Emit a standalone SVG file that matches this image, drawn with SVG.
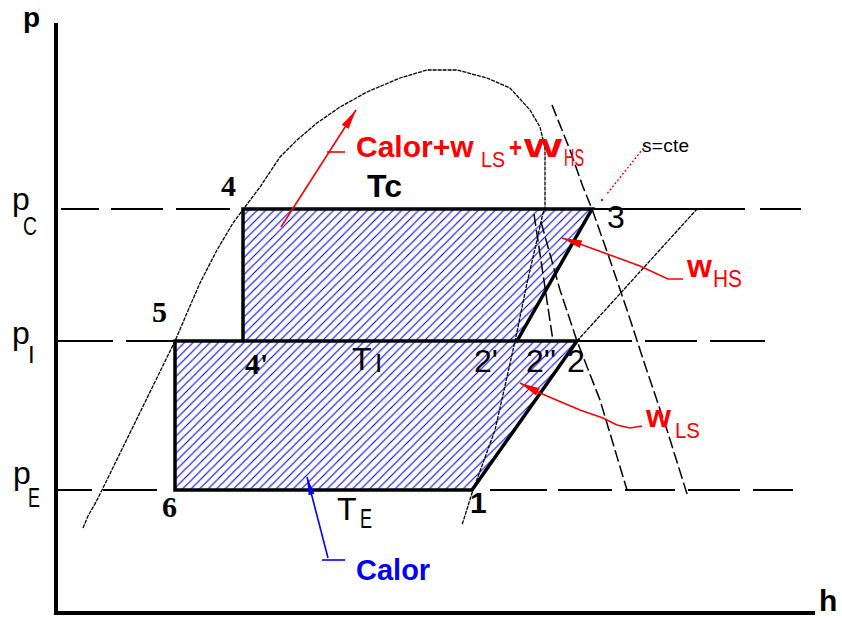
<svg xmlns="http://www.w3.org/2000/svg" width="842" height="619" viewBox="0 0 842 619">
<style>
.thin{fill:none;stroke:#000;stroke-width:1.3;stroke-dasharray:4,1}
.iso{fill:none;stroke:#000;stroke-width:1.5;stroke-dasharray:12,4}
.pl{fill:none;stroke:#000;stroke-width:1.8}
.thick{fill:none;stroke:#000;stroke-width:3.5;stroke-linecap:square}
.axis{fill:none;stroke:#000;stroke-width:4}
.sans{font-family:"Liberation Sans",Arial,sans-serif}
.serif{font-family:"Liberation Serif","Times New Roman",serif;font-weight:bold}
.red{fill:#ff0000}
.blue{fill:#0000ff}
.ra{fill:none;stroke:#ff0000;stroke-width:1.6}
</style>
<defs>
<pattern id="hatch" patternUnits="userSpaceOnUse" width="8.5" height="8.5">
<path d="M-2,2 L2,-2 M0,8.5 L8.5,0 M6.5,10.5 L10.5,6.5" stroke="#0000ff" stroke-width="1.1"/>
</pattern>
<marker id="arR" markerUnits="userSpaceOnUse" markerWidth="24" markerHeight="12" refX="20" refY="5" orient="auto">
<path d="M0,1 L20,5 L0,9 Z" fill="#ff0000"/>
</marker>
<marker id="arB" markerUnits="userSpaceOnUse" markerWidth="24" markerHeight="12" refX="18" refY="4" orient="auto">
<path d="M0,1 L18,4 L0,7 Z" fill="#0000ff"/>
</marker>
</defs>
<rect width="842" height="619" fill="#fff"/>

<g id="areas">
<path d="M243,209 L592,209 L517,341 L243,341 Z" fill="url(#hatch)"/>
<path d="M175,341 L577,341 L472,490 L175,490 Z" fill="url(#hatch)"/>
</g>

<g id="curves">
<polyline class="thin" points="83,528 88,516 96,502 102,490 175,341 187,313 200,283 217,250 233,223 245,207 260,187 280,157 297,140 317,123 340,107 367,92 400,78 427,70 457,70 487,78 510,88 530,110 540,127 545,148 545,209 543,213 537,240 527,283 518,327 515,341 507,377 495,430 483,463 473,490 462,525"/>
<polyline class="iso" points="552,105 570,150 583,187 592,209 610,260 627,310 645,365 667,430 688,497"/>
<polyline class="iso" points="541,222 560,290 577,341 600,400 627,490"/>
<polyline class="iso" points="534,214 553,341"/>
<line class="thin" x1="577" y1="341" x2="697" y2="209"/>
</g>

<g id="pressure-lines">
<path class="pl" d="M61,209 H99 M111,209 H163 M176,209 H230 M592,209 H745 M760,209 H801"/>
<path class="pl" d="M57,341 H113 M126,341 H175 M577,341 H632 M645,341 H697 M710,341 H765"/>
<path class="pl" d="M58,490 H92 M103,490 H157 M490,490 H547 M558,490 H612 M625,490 H675 M688,490 H740 M753,490 H793"/>
</g>

<g id="cycle">
<path class="thick" d="M243,209 H592 L517,341 M243,209 V341 M175,341 H577 L472,490 H175 V341"/>
</g>

<g id="axes">
<path class="axis" d="M56,23 V613 H815"/>
</g>

<g id="arrows">
<line class="ra" x1="281" y1="227" x2="356" y2="110" stroke-width="2.2" marker-end="url(#arR)"/>
<line class="ra" x1="327" y1="152" x2="345" y2="152"/>
<polyline class="ra" points="683,279 668,279 640,266 580,244 562,238" marker-end="url(#arR)"/>
<polyline class="ra" points="642,426 630,428 617,425 603,418 580,410 540,393 520,383" marker-end="url(#arR)"/>
<line x1="646" y1="145" x2="606" y2="195" stroke="#ff0000" stroke-width="1.4" stroke-dasharray="2,2"/>
<circle cx="602" cy="200" r="1.2" fill="#ff0000"/>
<line x1="328" y1="558" x2="307" y2="477" stroke="#0000ff" stroke-width="1.6" marker-end="url(#arB)"/>
<line x1="322" y1="560" x2="345" y2="560" stroke="#0000ff" stroke-width="1.6"/>
</g>

<g id="labels">
<text class="sans" x="23" y="27" font-size="28" font-weight="bold">p</text>
<text class="sans" x="819" y="611" font-size="30" font-weight="bold">h</text>
<text class="sans" x="12" y="210" font-size="32">p<tspan x="23" y="235" font-size="26" textLength="14" lengthAdjust="spacingAndGlyphs">C</tspan></text>
<text class="sans" x="12" y="344" font-size="32">p<tspan x="28" y="363" font-size="24">I</tspan></text>
<text class="sans" x="13" y="484" font-size="32">p<tspan x="28" y="507" font-size="28" textLength="12" lengthAdjust="spacingAndGlyphs">E</tspan></text>

<text class="serif" x="221" y="196" font-size="30">4</text>
<text class="serif" x="152" y="322" font-size="30">5</text>
<text class="serif" x="162" y="517" font-size="30">6</text>
<text class="serif" x="245" y="374" font-size="30">4'</text>
<text class="sans" x="470" y="513" font-size="30" font-weight="bold">1</text>
<text class="sans" x="474" y="372" font-size="32">2'</text>
<text class="sans" x="526" y="372" font-size="32">2''</text>
<text class="sans" x="567" y="372" font-size="32">2</text>
<text class="sans" x="607" y="228" font-size="32">3</text>

<text class="sans" x="367" y="197" font-size="32" font-weight="bold">Tc</text>
<text class="sans" x="352" y="370" font-size="32">T<tspan x="375" y="372" font-size="26">I</tspan></text>
<text class="sans" x="337" y="520" font-size="32">T<tspan x="360" y="528" font-size="28" textLength="12" lengthAdjust="spacingAndGlyphs">E</tspan></text>

<text class="sans red" x="356" y="157" font-size="30" font-weight="bold">Calor+w<tspan x="481" y="167" font-size="22" font-weight="normal" textLength="24" lengthAdjust="spacingAndGlyphs">LS</tspan><tspan x="509" y="157" font-size="28" textLength="13" lengthAdjust="spacingAndGlyphs">+</tspan><tspan x="524" y="157" font-size="34" textLength="38" lengthAdjust="spacingAndGlyphs">w</tspan><tspan x="564" y="166" font-size="24" font-weight="normal" textLength="20" lengthAdjust="spacingAndGlyphs">HS</tspan></text>

<text class="sans red" x="687" y="277" font-size="32" font-weight="bold">w<tspan x="713" y="287" font-size="24" font-weight="normal" textLength="29" lengthAdjust="spacingAndGlyphs">HS</tspan></text>
<text class="sans red" x="646" y="427" font-size="32" font-weight="bold">w<tspan x="675" y="438" font-size="22" font-weight="normal" textLength="25" lengthAdjust="spacingAndGlyphs">LS</tspan></text>

<text class="sans blue" x="356" y="580" font-size="29" font-weight="bold">Calor</text>
<text class="sans" x="642" y="152" font-size="19" textLength="47" lengthAdjust="spacing">s=cte</text>
</g>
</svg>
